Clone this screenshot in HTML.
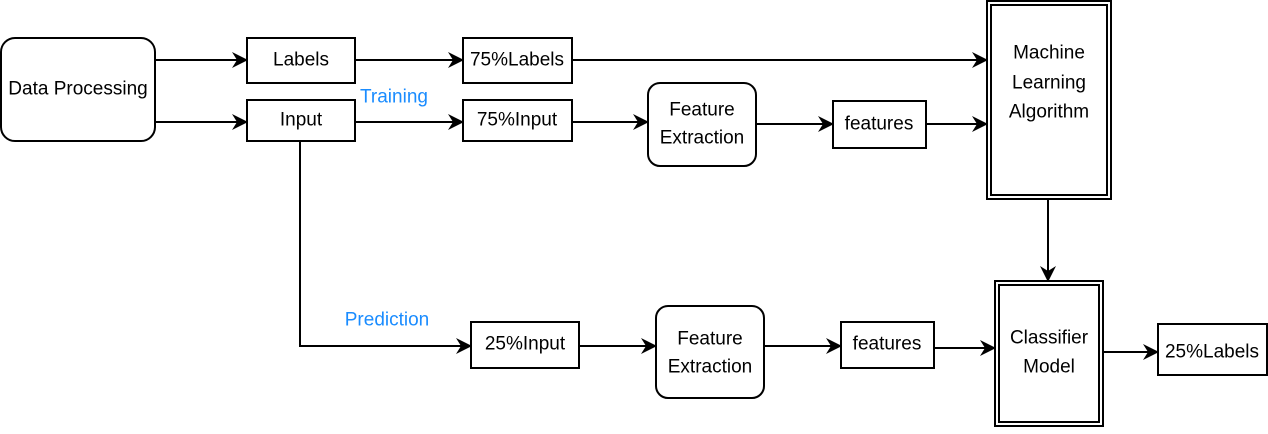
<!DOCTYPE html>
<html><head><style>
body{margin:0;background:#fff;}
svg text{font-family:"Liberation Sans",sans-serif;font-size:19px;fill:#000;text-anchor:middle;dominant-baseline:central;}
</style></head><body>
<svg width="1268" height="429" viewBox="0 0 1268 429">
<defs><marker id="a" markerWidth="16" markerHeight="16" refX="15" refY="8" orient="auto" markerUnits="userSpaceOnUse"><path d="M0,0 L16,8 L0,16 L5,8 Z" fill="#000"/></marker></defs>
<g fill="none" stroke="#000" stroke-width="2">
<rect x="1" y="38" width="154" height="103" rx="14"/>
<rect x="247" y="38" width="108" height="45"/>
<rect x="247" y="100" width="108" height="41"/>
<rect x="463" y="38" width="109" height="45"/>
<rect x="463" y="100" width="109" height="41"/>
<rect x="648" y="83" width="108" height="83" rx="12"/>
<rect x="833" y="101" width="93" height="47"/>
<rect x="987" y="1" width="124" height="198"/>
<rect x="991" y="5" width="116" height="190"/>
<rect x="471" y="322" width="108" height="46"/>
<rect x="656" y="306" width="108" height="92" rx="12"/>
<rect x="841" y="322" width="93" height="46"/>
<rect x="995" y="281" width="108" height="145"/>
<rect x="999" y="285" width="100" height="137"/>
<rect x="1158" y="324" width="109" height="51"/>
<g marker-end="url(#a)">
<line x1="155" y1="60" x2="247" y2="60"/>
<line x1="155" y1="122" x2="247" y2="122"/>
<line x1="355" y1="60" x2="463" y2="60"/>
<line x1="355" y1="122" x2="463" y2="122"/>
<line x1="572" y1="60" x2="987" y2="60"/>
<line x1="572" y1="122" x2="648" y2="122"/>
<line x1="756" y1="124" x2="833" y2="124"/>
<line x1="926" y1="124" x2="987" y2="124"/>
<line x1="1048" y1="199" x2="1048" y2="281"/>
<polyline points="300,141 300,346 471,346"/>
<line x1="579" y1="346" x2="656" y2="346"/>
<line x1="764" y1="346" x2="841" y2="346"/>
<line x1="934" y1="348" x2="995" y2="348"/>
<line x1="1103" y1="352" x2="1158" y2="352"/>
</g></g>
<text x="78" y="89">Data Processing</text>
<text x="301" y="60">Labels</text>
<text x="301" y="120">Input</text>
<text x="517" y="60">75%Labels</text>
<text x="517" y="120">75%Input</text>
<text x="702" y="110">Feature</text>
<text x="702" y="138">Extraction</text>
<text x="879" y="124">features</text>
<text x="1049" y="53">Machine</text>
<text x="1049" y="83">Learning</text>
<text x="1049" y="112">Algorithm</text>
<text x="525" y="344">25%Input</text>
<text x="710" y="339">Feature</text>
<text x="710" y="367">Extraction</text>
<text x="887" y="344">features</text>
<text x="1049" y="338">Classifier</text>
<text x="1049" y="367">Model</text>
<text x="1212" y="352">25%Labels</text>
<text x="394" y="97" style="fill:#1a8cff">Training</text>
<text x="387" y="320" style="fill:#1a8cff">Prediction</text>
</svg>
</body></html>
